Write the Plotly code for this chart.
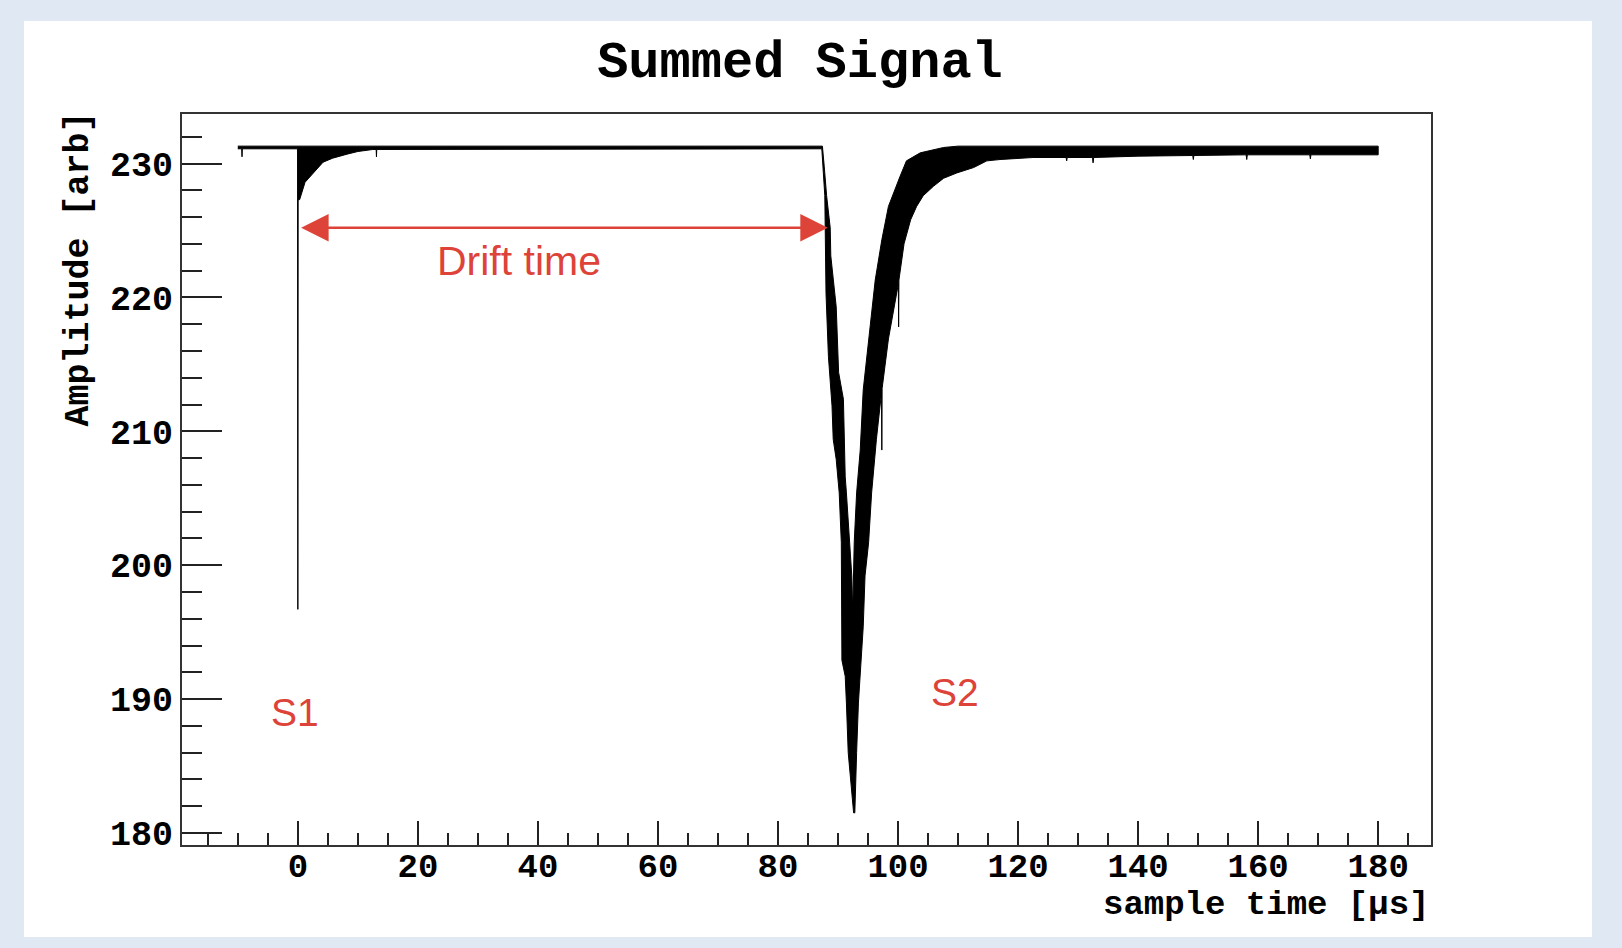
import plotly.graph_objects as go

# ---------------- data ----------------
# upper envelope of the summed waveform (sample time [us], amplitude [arb])
upper_time = [-10, 87.4, 87.7, 88.1, 88.7, 88.8, 89.7, 90.1, 90.9, 91.2, 91.4, 92.0, 92.3, 92.45,
              92.6, 92.7, 93.1, 93.7, 94.2, 95.1, 96.2, 97.3, 98.4, 100.3, 101.4, 103.7, 105.9,
              107.6, 110, 180]
upper_amp = [231.3, 231.3, 229.8, 227.6, 225.2, 223.1, 219.3, 214.4, 212.4, 206.6, 205.4, 201.7, 199.2, 196.5,
             199.5, 201.7, 205.4, 208.6, 213.1, 216.9, 221.3, 224.3, 226.8, 229.0, 230.2, 230.8, 231.05,
             231.2, 231.3, 231.3]

# lower envelope of the summed waveform
lower_time = [-10, -9.35, -9.3, -9.25, -0.05, 0, 0.05, 0.3, 1.2, 2.0, 3.2, 4.2, 5.8, 8.2, 10, 12.5,
              13.05, 13.1, 13.15, 87.3, 87.6, 87.8, 88.0, 88.4, 89.0, 89.2, 89.7, 90.2, 90.55, 90.65,
              91.2, 91.4, 91.7, 92.0, 92.3, 92.6, 92.8, 93.1, 93.4, 93.7, 94.2, 94.5, 95.1, 95.6,
              96.4, 97.25, 97.3, 97.35, 98.4, 100.05, 100.1, 100.15, 101.0, 102.1, 103.1, 104.2,
              105.9, 107.6, 109.8, 112.6, 114.8, 117.0, 122.5, 128.0, 128.1, 128.2, 132.4, 132.5,
              132.6, 140, 149.1, 149.2, 149.3, 158.0, 158.1, 158.2, 168.6, 168.7, 168.8, 180]
lower_amp = [231.1, 231.1, 230.5, 231.1, 231.1, 196.7, 227.3, 227.3, 228.6, 229.0, 229.6, 230.1, 230.4, 230.7, 230.9, 231.05,
             231.05, 230.5, 231.05, 231.1, 229.0, 227.6, 220.3, 215.6, 211.9, 209.4, 207.9, 205.4, 201.7, 192.9,
             191.7, 189.7, 186.0, 184.7, 183.0, 181.5, 181.5, 186.0, 189.7, 192.0, 195.4, 199.2, 201.7, 205.4,
             209.4, 212.9, 208.6, 213.2, 216.9, 221.0, 217.8, 221.3, 224.0, 225.8, 226.8, 227.6,
             228.3, 228.9, 229.3, 229.7, 230.2, 230.3, 230.45, 230.45, 230.2, 230.45, 230.45, 230.05,
             230.45, 230.55, 230.6, 230.3, 230.6, 230.65, 230.3, 230.65, 230.65, 230.35, 230.65, 230.65]

x_ticks = [0, 20, 40, 60, 80, 100, 120, 140, 160, 180]
y_ticks = [180, 190, 200, 210, 220, 230]

# annotations
s1_pos = (-0.5, 189.0)
s2_pos = (109.5, 190.5)
drift_start, drift_end, drift_level = 0.3, 88.3, 225.2
drift_label_pos = (36.8, 222.7)

# ---------------- figure ----------------
RED = "#dd4338"
MONO = "Liberation Mono, Courier New, monospace"
SANS = "Liberation Sans, Arial, Helvetica, sans-serif"

poly_x = list(upper_time) + list(reversed(lower_time))
poly_y = list(upper_amp) + list(reversed(lower_amp))

fig = go.Figure()
fig.add_trace(go.Scatter(
    x=poly_x, y=poly_y, mode="lines", fill="toself",
    fillcolor="black", line=dict(color="black", width=1),
    hoverinfo="skip", showlegend=False,
))

W, H = 1622, 948
L, R, T, B = 182, 1431, 114, 845
pw, ph = R - L, B - T

def px_x(p):
    return (p - L) / pw

def px_y(p):
    return (B - p) / ph

fig.update_layout(
    width=W, height=H,
    margin=dict(l=L, r=W - R, t=T, b=H - B),
    paper_bgcolor="#e0e9f3",
    plot_bgcolor="white",
    showlegend=False,
    title=dict(text="<b>Summed Signal</b>", font=dict(family=MONO, size=52, color="black"),
               xref="container", yref="container", x=800 / W, y=1 - 59 / H,
               xanchor="center", yanchor="middle"),
    shapes=[dict(type="rect", xref="paper", yref="paper",
                 x0=px_x(24), x1=px_x(1592), y0=px_y(937), y1=px_y(21),
                 fillcolor="white", line=dict(width=0), layer="below")],
)

fig.update_xaxes(
    range=[-19.3, 188.8], tickmode="array", tickvals=x_ticks,
    ticktext=[str(v) for v in x_ticks],
    ticks="inside", ticklen=24, tickwidth=2, tickcolor="#222",
    minor=dict(dtick=5, tick0=0, ticks="inside", ticklen=12, tickwidth=2, tickcolor="#222", showgrid=False),
    showline=True, linewidth=2, linecolor="#333", mirror=True,
    showgrid=False, zeroline=False, ticklabelstandoff=-11,
    tickfont=dict(family=MONO, size=34, color="black", weight="bold"),
)
fig.update_yaxes(
    range=[179.1, 233.7], tickmode="array", tickvals=y_ticks,
    ticktext=[str(v) for v in y_ticks],
    ticks="inside", ticklen=40, tickwidth=2, tickcolor="#222",
    minor=dict(dtick=2, tick0=0, ticks="inside", ticklen=20, tickwidth=2, tickcolor="#222", showgrid=False),
    showline=True, linewidth=2, linecolor="#333", mirror=True,
    showgrid=False, zeroline=False,
    tickfont=dict(family=MONO, size=35, color="black", weight="bold"),
)

annotations = [
    dict(text="<b>sample time [µs]</b>", xref="paper", yref="paper", x=1.0, y=px_y(905),
         xanchor="right", yanchor="middle", showarrow=False,
         font=dict(family=MONO, size=34, color="black")),
    dict(text="<b>Amplitude [arb]</b>", xref="paper", yref="paper", x=px_x(78), y=px_y(110),
         xanchor="center", yanchor="top", textangle=-90, showarrow=False,
         font=dict(family=MONO, size=35, color="black")),
    dict(text="S1", x=s1_pos[0], y=s1_pos[1], xref="x", yref="y", showarrow=False,
         font=dict(family=SANS, size=39, color=RED)),
    dict(text="S2", x=s2_pos[0], y=s2_pos[1], xref="x", yref="y", showarrow=False,
         font=dict(family=SANS, size=39, color=RED)),
    dict(text="Drift time", x=drift_label_pos[0], y=drift_label_pos[1], xref="x", yref="y",
         showarrow=False, font=dict(family=SANS, size=41, color=RED)),
    dict(text="", x=drift_end, y=drift_level, ax=drift_start, ay=drift_level,
         xref="x", yref="y", axref="x", ayref="y", showarrow=True,
         arrowhead=2, startarrowhead=2, arrowside="end+start",
         arrowsize=2.2, startarrowsize=2.2, arrowwidth=2.5, arrowcolor=RED),
]
fig.update_layout(annotations=annotations)

fig.write_html(
    "out.html",
    config={"displayModeBar": False},
    post_script="document.body.style.margin='0px';document.body.style.overflow='hidden';",
)
